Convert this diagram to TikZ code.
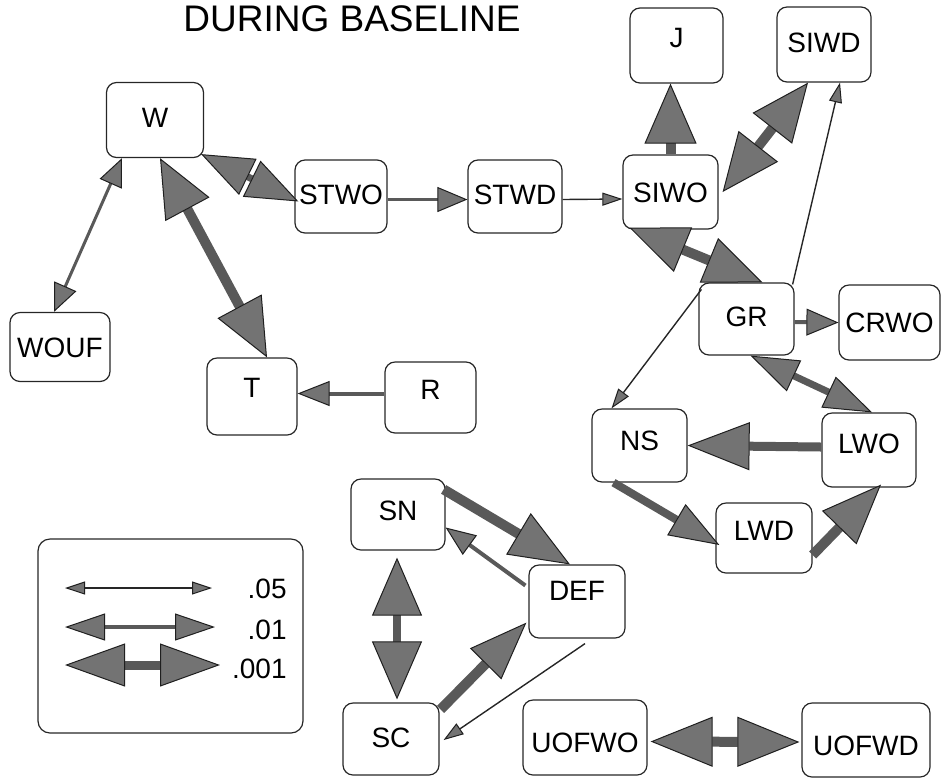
\documentclass[tikz,border=0pt]{standalone}
\usepackage{fontspec}
\setmainfont{Liberation Sans}
\usetikzlibrary{arrows.meta,calc}
\definecolor{tipfill}{gray}{0.45}
\definecolor{shaftgray}{gray}{0.35}
\definecolor{tipline}{gray}{0.12}
\tikzset{
  box/.style={draw=black!85, line width=0.6pt, rounded corners=5pt, inner sep=0pt,
    font=\fontsize{14}{16}\selectfont, text height=10pt, text depth=0pt},
  fat/.style n args={3}{line width=#1pt, draw=shaftgray,
    >={Triangle[length=#2pt,width=#3pt,line width=0.5pt,color=tipline,fill=tipfill]}},
  thinarr/.style={fat={0.7}{10}{6.5}, draw=black!85},
  lbl/.style={font=\fontsize{14}{16}\selectfont, inner sep=0pt, anchor=east, text height=10pt, text depth=0pt},
}
\begin{document}
\begin{tikzpicture}[x=0.5pt,y=-0.5pt]
\useasboundingbox (0,0) rectangle (941,778);
% title
\node[font=\fontsize{18.5}{22}\selectfont, inner sep=0pt, text height=13.25pt, text depth=0pt] (title) at (352,18) {DURING BASELINE};
% boxes
\node[box, minimum width=48.5pt, minimum height=37.5pt, text depth=3pt] (W) at (155,120) {W};
\node[box, minimum width=50pt, minimum height=34.5pt] (WOUF) at (60,347) {WOUF};
\node[box, minimum width=46pt, minimum height=36.5pt, text depth=2pt] (STWO) at (341,196.5) {STWO};
\node[box, minimum width=47pt, minimum height=36.5pt, text depth=2pt] (STWD) at (515,196.5) {STWD};
\node[box, minimum width=45pt, minimum height=38.5pt, text depth=9pt] (T) at (252,396.5) {T};
\node[box, minimum width=45.5pt, minimum height=35.5pt, text depth=8pt] (R) at (430.5,397.5) {R};
\node[box, minimum width=46.5pt, minimum height=37.5pt, text depth=8pt] (J) at (676.5,45.5) {J};
\node[box, minimum width=47pt, minimum height=37.5pt, text depth=2pt] (SIWD) at (824,44.5) {SIWD};
\node[box, minimum width=47.5pt, minimum height=37pt] (SIWO) at (670.5,192) {SIWO};
\node[box, minimum width=47.5pt, minimum height=36pt, text depth=3pt] (GR) at (746.5,319) {GR};
\node[box, minimum width=50.5pt, minimum height=37.5pt] (CRWO) at (889.5,322.5) {CRWO};
\node[box, minimum width=47.5pt, minimum height=36.5pt, text depth=5pt] (NS) at (639.5,445.5) {NS};
\node[box, minimum width=47pt, minimum height=37pt, text depth=7pt] (LWO) at (869,450) {LWO};
\node[box, minimum width=48pt, minimum height=35pt, text depth=8pt] (LWD) at (764,538) {LWD};
\node[box, minimum width=48pt, minimum height=36.5pt, text depth=11pt] (DEF) at (577,601.5) {DEF};
\node[box, minimum width=62pt, minimum height=37.5pt, text height=15pt] (UOFWO) at (585,737.5) {UOFWO};
\node[box, minimum width=64pt, minimum height=37pt, text height=15pt] (UOFWD) at (866,740) {UOFWD};
\node[box, minimum width=47pt, minimum height=35.5pt, text depth=4pt] (SN) at (398,514.5) {SN};
\node[box, minimum width=48pt, minimum height=36pt, text depth=2pt] (SC) at (391,739) {SC};
% legend
\node[draw=black!85, line width=0.6pt, rounded corners=6pt, minimum width=132.5pt, minimum height=97pt] (legend) at (170.5,636) {};
\coordinate (l1a) at (65,588); \coordinate (l1b) at (212,588);
\coordinate (l2a) at (65,627); \coordinate (l2b) at (215,627);
\coordinate (l3a) at (65,665); \coordinate (l3b) at (220,665);
\draw[thinarr,<->] (l1a) -- (l1b);
\draw[fat={2.3}{20}{13.5},<->] (l2a) -- (l2b);
\draw[fat={4.5}{30}{21.5},<->] (l3a) -- (l3b);
\node[lbl] (p05) at (287,588) {.05};
\node[lbl] (p01) at (287,629) {.01};
\node[lbl] (p001) at (287,668) {.001};
% connectors
\draw[fat={1.5}{14}{12},<->] ($(W.south)+(-33,0)$) -- ($(WOUF.north)+(-6,0)$);
\draw[fat={5}{29}{25},<->] ($(W.south)+(5,0)$) -- ($(T.north)+(15,0)$);
\draw[fat={3.5}{26}{20},<->] ($(W.south east)+(-3,-4)$) -- ($(STWO.west)+(4,5)$);
\draw[fat={1.6}{15}{12.5},->] ($(STWO.east)+(0,3)$) -- ($(STWD.west)+(0,3)$);
\draw[thinarr,->] ($(STWD.east)+(0,3)$) -- ($(SIWO.west)+(0,7)$);
\draw[fat={5}{30}{26},->] ($(SIWO.north)+(0,0)$) -- ($(J.south)+(-6,0)$);
\draw[fat={5}{29}{25},<->] ($(SIWO.east)+(4,0)$) -- ($(SIWD.south)+(-16,0)$);
\draw[fat={5}{29}{24},<->] ($(SIWO.south west)+(7,-2)$) -- ($(GR.north)+(16,0)$);
\draw[thinarr,->] ($(GR.north east)+(-2,2)$) -- ($(SIWD.south)+(16,0)$);
\draw[fat={2}{16}{13.5},->] ($(GR.east)+(0,3)$) -- (CRWO.west);
\draw[thinarr,->] ($(GR.north west)+(3,7)$) -- ($(NS.north)+(-28,0)$);
\draw[fat={3.5}{24}{17},<->] ($(GR.south)+(4,0)$) -- ($(LWO.north)+(3,0)$);
\draw[fat={4.5}{31}{24},->] ($(LWO.west)+(0,-3)$) -- (NS.east);
\draw[fat={4}{25}{18},->] ($(NS.south)+(-26,0)$) -- ($(LWD.west)+(4,7)$);
\draw[fat={5}{30}{24},->] ($(LWD.east)+(0,17)$) -- ($(LWO.south)+(12,-3)$);
\draw[fat={5}{30}{24},->] ($(SN.north east)+(-2,11)$) -- ($(DEF.north)+(-7,0)$);
\draw[fat={2}{15}{12},->] ($(DEF.west)+(-3,-16)$) -- ($(SN.east)+(0,13)$);
\draw[fat={4}{29}{25},<->] ($(SN.south)+(-1,7)$) -- ($(SC.north)+(6,-3)$);
\draw[fat={5}{29}{22},->] ($(SC.north east)+(1,7)$) -- ($(DEF.south west)+(-2,-16)$);
\draw[thinarr,->] ($(DEF.south)+(8,5)$) -- ($(SC.east)+(4,1)$);
\draw[fat={5}{31}{25},<->] ($(UOFWO.east)+(3,4)$) -- ($(UOFWD.west)+(-2,2)$);
\draw[fat={2}{16}{12.5},->] ($(R.west)+(0,-4)$) -- ($(T.east)+(0,-3)$);
\end{tikzpicture}
\end{document}
